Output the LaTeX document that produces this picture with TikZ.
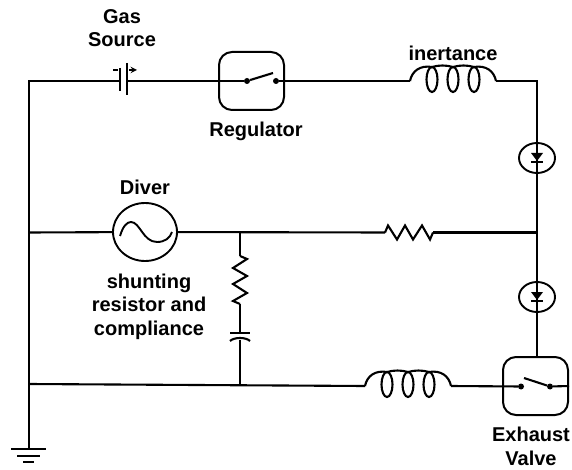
\documentclass[tikz,border=0pt]{standalone}
\usepackage{fontspec}
\setmainfont{Liberation Sans}
\usetikzlibrary{shapes.geometric}
\tikzset{
	wire/.style={line width=2.1pt},
	tag/.style={align=center,inner sep=0pt,font=\bfseries\fontsize{20}{23.5}\selectfont},
	valvebox/.style={draw,line width=2pt,rounded corners=13pt,minimum width=65pt,minimum height=58pt,inner sep=0pt},
	contact/.style={circle,fill=black,minimum size=6pt,inner sep=0pt},
	ring/.style={draw,ellipse,line width=1.9pt,inner sep=0pt},
	coilpic/.pic={
		\coordinate (-a) at (-43,0);
		\coordinate (-b) at (43,0);
		\draw[wire] (-a) .. controls (-41,-10) and (-33,-16) .. (-21,-14)
			.. controls (-14,-16) and (-7,-16) .. (0,-14)
			.. controls (7,-16) and (14,-16) .. (21,-14)
			.. controls (33,-16) and (41,-10) .. (-b);
		\foreach \x in {-21,0,21}
			\draw[wire] (\x,-1.5) ellipse (5.5pt and 12.5pt);
	},
	zigzagpic/.pic={
		\coordinate (-a) at (-24,0);
		\coordinate (-b) at (24,0);
		\draw[wire] (-a) -- (-21,-7) -- (-12,7) -- (-4,-7) -- (4,7) -- (13,-7) -- (21,7) -- (-b);
	},
	checkpic/.pic={
		\draw[wire] (0,-15) -- (0,15);
		\fill (-6,-5) -- (6,-5) -- (0,3) -- cycle;
		\draw[line width=2pt] (-6,4) -- (6,4);
	},
}

\begin{document}
\begin{tikzpicture}[x=1pt,y=-1pt]
	\useasboundingbox (0,0) rectangle (572,470);

	\coordinate (topleft) at (29,81);
	\coordinate (midleft) at (29,232.5);
	\coordinate (lowleft) at (29,384);
	\coordinate (earth) at (29,449);
	\coordinate (topright) at (537,81);
	\coordinate (midright) at (537,232.5);
	\coordinate (shunttop) at (240,232.5);
	\coordinate (shuntlow) at (240,385);

	\coordinate (cellminus) at (120,81);
	\coordinate (cellplus) at (127,81);
	\draw[wire] (120,68) -- (120,91);
	\draw[wire] (127,63) -- (127,95);
	\draw[line width=1.8pt] (113,70) -- (118,70);
	\draw[line width=1.8pt,-stealth] (129,70) -- (137,70);

	\node[valvebox] (regulator) at (251.5,81) {};
	\node[contact] (regin) at (247,81) {};
	\node[contact] (regout) at (276,81) {};
	\draw[wire] (regin) -- (273,73);

	\node[valvebox] (exhaust) at (535.5,386) {};
	\node[contact] (exin) at (521,386.5) {};
	\node[contact] (exout) at (550,386.5) {};
	\draw[wire] (524,378) -- (exout);

	\pic (inertance) at (453,81) {coilpic};
	\pic (lowcoil) at (408,386) {coilpic};

	\node[ring,minimum width=36pt,minimum height=30pt] (checktop) at (537,158) {};
	\node[ring,minimum width=36pt,minimum height=30pt] (checklow) at (537,297) {};
	\pic at (537,158) {checkpic};
	\pic at (537,297) {checkpic};

	\node[ring,minimum width=64pt,minimum height=58pt] (diver) at (145,232) {};
	\draw[line width=1.9pt] (120,236) .. controls (123,226) and (127,222) .. (131,222)
		.. controls (140,222) and (143,242) .. (157,242)
		.. controls (165,242) and (170,238) .. (172,232);

	\pic (seriesres) at (409,232.5) {zigzagpic};
	\pic[rotate=-90] (shuntres) at (240,280) {zigzagpic};

	\coordinate (capin) at (240,333);
	\coordinate (capout) at (240,340);
	\draw[wire] (230,333) -- (250,333);
	\draw[wire] (230,341) .. controls (234,337) and (246,337) .. (250,341);

	\draw[wire] (earth) -- (lowleft) -- (midleft) -- (topleft) -- (cellminus);
	\draw[wire] (cellplus) -- (regin);
	\draw[wire] (regout) -- (regulator.east);
	\draw[wire] (regulator.east) -- (inertance-a);
	\draw[wire] (inertance-b) -- (topright) -- (checktop);
	\draw[wire] (checktop) -- (midright) -- (checklow);
	\draw[wire] (checklow) -- (exhaust.north -| checklow);
	\draw[wire] (midleft) -- (diver);
	\draw[wire] (diver) -- (seriesres-a);
	\draw[wire] (seriesres-b) -- (midright);
	\draw[wire] (shunttop) -- (shuntres-a);
	\draw[wire] (shuntres-b) -- (capin);
	\draw[wire] (capout) -- (shuntlow);
	\draw[wire] (lowleft) -- (lowcoil-a);
	\draw[wire] (lowcoil-b) -- (exin);
	\draw[wire] (exout) -- (exhaust.east);

	\draw[line width=1.5pt] (11,449) -- (46,449);
	\draw[line width=1.5pt] (17,456) -- (40,456);
	\draw[line width=1.5pt] (23,462) -- (34,462);

	\node[tag] (gaslabel) at (122,28) {Gas\\Source};
	\node[tag] (reglabel) at (256,131) {Regulator};
	\node[tag] (inertlabel) at (453,53) {inertance};
	\node[tag] (diverlabel) at (145,187) {Diver};
	\node[tag] (shuntlabel) at (149,306.5) {shunting\\resistor and\\compliance};
	\node[tag] (exlabel) at (531,446.5) {Exhaust\\Valve};
\end{tikzpicture}
\end{document}
